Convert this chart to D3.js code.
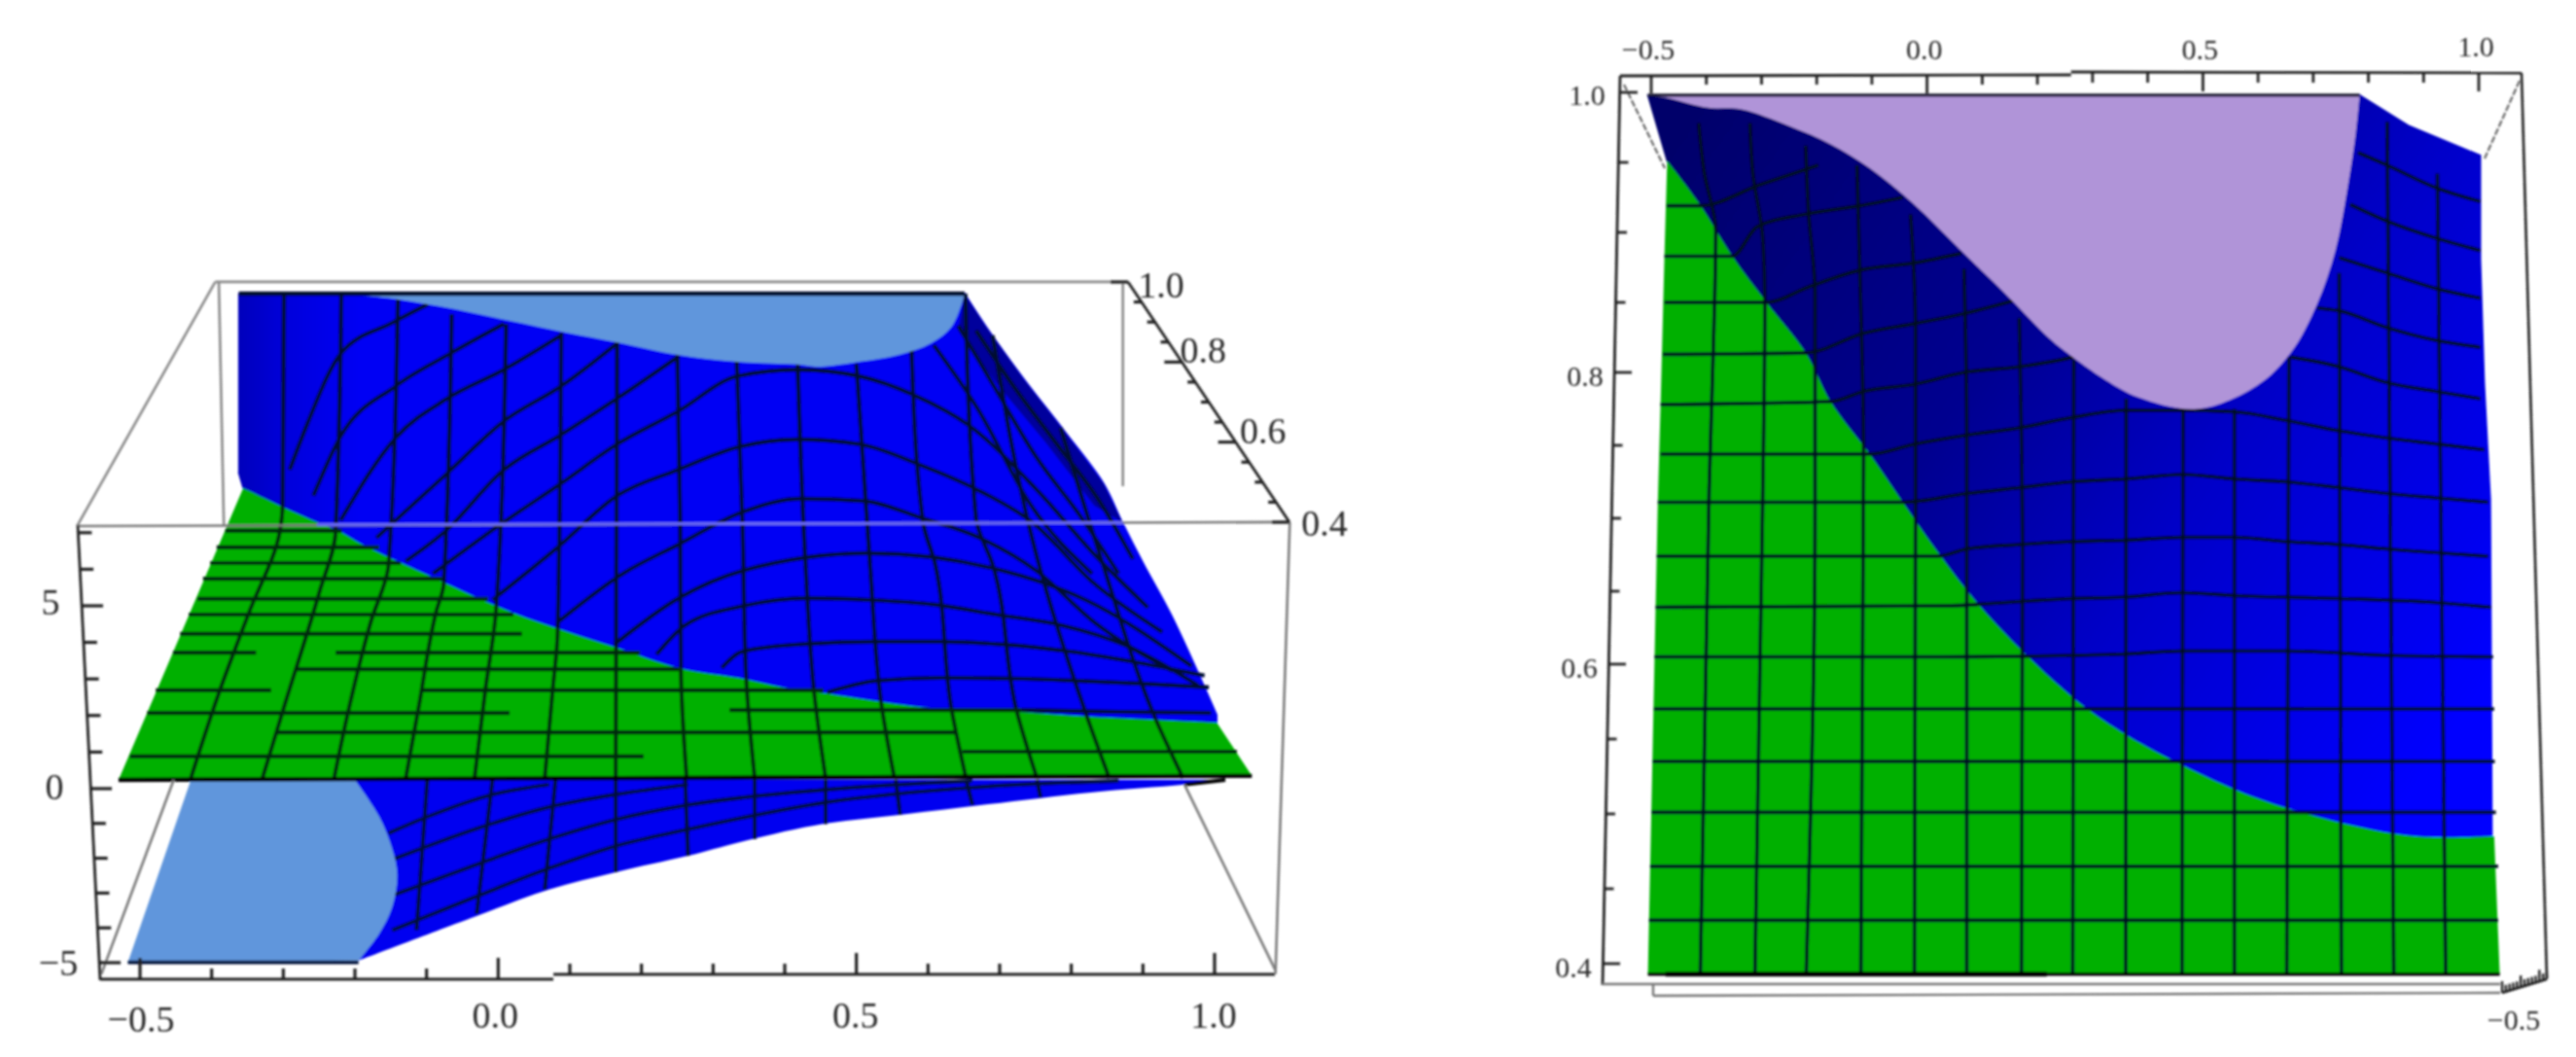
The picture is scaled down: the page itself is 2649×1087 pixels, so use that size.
<!DOCTYPE html>
<html><head><meta charset="utf-8">
<script src="https://cdnjs.cloudflare.com/ajax/libs/d3/7.8.5/d3.min.js"></script>
<style>html,body{margin:0;padding:0;background:#fff;overflow:hidden}svg{display:block}text{font-family:"Liberation Serif",serif;fill:#2a2a2a}</style>
</head><body><svg id="c" width="2649" height="1087"></svg>
<script>
// ---------- LEFT PANEL (x , projected z) ----------
const leftXTicks=[-0.5,-0.4,-0.3,-0.2,-0.1,0,0.1,0.2,0.3,0.4,0.5,0.6,0.7,0.8,0.9,1.0];
const leftXLabels=[[-0.5,"−0.5"],[0,"0.0"],[0.5,"0.5"],[1,"1.0"]];
const leftZTicks=[-5,-4,-3,-2,-1,0,1,2,3,4,5,6,7];
const leftZLabels=[[-5,"−5"],[0,"0"],[5,"5"]];
const leftDepthTicks=[0.4,0.45,0.5,0.55,0.6,0.65,0.7,0.75,0.8,0.85,0.9,0.95,1.0];
const leftDepthLabels=[[1.0,"1.0"],[0.8,"0.8"],[0.6,"0.6"],[0.4,"0.4"]];

const capTop=[[-.205,13.51],[-.139,13.38],[-.060,13.11],[.017,12.79],[.096,12.47],[.165,12.21],[.251,11.86],[.329,11.68],[.418,11.60],[.446,11.54],[.496,11.65],[.559,11.86],[.604,12.18],[.632,12.61],[.648,13.32],[.651,13.54]];
const rightEdge=[[.651,13.54],[.682,12.61],[.734,11.20],[.790,9.79],[.845,8.35],[.871,7.29],[.901,6.14],[.940,4.73],[1.003,2.02],[1.003,1.81]];
const seam=[[-.356,8.22],[-.296,7.66],[-.253,7.29],[-.220,7.02],[-.190,6.68],[-.087,5.74],[.021,4.81],[.161,3.88],[.252,3.30],[.335,3.03],[.397,2.77],[.454,2.61],[.591,2.23],[.723,2.10],[.826,1.97],[1.003,1.81]];
const upperLeft=[[-.362,8.62],[-.362,13.54]];
const wedge=[[.642,12.53],[.696,11.07],[.764,9.47],[.832,7.74],[.871,7.29],[.845,8.35],[.790,9.79],[.734,11.20],[.682,12.61],[.651,13.54]];
const planeCorners=[[1.052,.35],[-.530,.24]];
const lowerCurve=[[-.195,-4.94],[-.033,-3.68],[.071,-2.90],[.164,-2.40],[.265,-1.93],[.335,-1.55],[.441,-1.06],[.563,-.75],[.684,-.45],[.827,-.11],[.958,.11],[1.015,.24]];
const lowerCapCurve=[[-.200,.24],[-.166,-.81],[-.148,-1.73],[-.141,-2.48],[-.148,-3.40],[-.166,-4.16],[-.195,-4.94]];
const lowerCapLeft=[[-.517,-4.99],[-.429,.24]];

const planeRows=[
 [7.05,-.381,-.218],[6.60,-.393,-.166],[6.17,-.402,-.136],[5.74,-.412,-.078],[5.19,-.420,-.014],[4.76,-.432,.021],[4.23,-.444,.033],
 [3.72,-.454,-.338],[3.72,-.227,.198],[3.27,-.281,.252],[2.69,-.478,-.317],[2.69,-.109,.454],[2.07,-.490,.016],[2.15,.323,.730],
 [1.54,-.311,.638],[.88,-.514,.203],[1.01,.648,1.031]];
const meshCols=[
 [[-.299,13.54],[-.301,7.74],[-.305,7.02],[-.348,4.81],[-.390,2.61],[-.429,.29]],
 [[-.219,13.51],[-.227,7.02],[-.250,5.35],[-.299,2.23],[-.329,.29]],
 [[-.140,13.38],[-.153,6.14],[-.178,4.55],[-.208,2.23],[-.229,.29]],
 [[-.065,12.98],[-.076,5.61],[-.087,4.81],[-.111,2.23],[-.129,.29]],
 [[.011,12.71],[-.003,4.89],[-.018,2.69],[-.033,.29]],
 [[.088,12.47],[.083,4.28],[.076,2.69],[.065,.29]],
 [[.166,12.21],[.164,.29]],
 [[.250,11.86],[.254,7.29],[.255,3.30],[.263,.29]],
 [[.333,11.68],[.341,7.21],[.346,3.09],[.358,.29]],
 [[.418,11.60],[.429,6.14],[.441,2.63],[.457,.29]],
 [[.500,11.62],[.519,6.14],[.535,2.29],[.553,.29]],
 [[.577,12.00],[.593,7.29],[.610,6.14],[.633,2.15],[.653,.29]],
 [[.652,13.54],[.667,7.39],[.690,6.14],[.724,2.10],[.752,.29]],
 [[.690,12.40],[.751,6.41],[.821,2.02],[.853,.29]],
 [[.785,9.87],[.844,6.14],[.918,1.89],[.956,.29]]];
const meshArcs=[
 [[-.291,8.72],[-.267,9.95],[-.219,11.92],[-.148,12.74],[-.098,13.25]],
 [[-.258,8.01],[-.221,9.60],[-.143,11.01],[-.065,11.92],[.008,12.71]],
 [[-.220,7.34],[-.143,9.60],[-.071,10.67],[.008,11.46],[.088,12.40]],
 [[-.170,6.86],[-.076,8.54],[.008,10.05],[.088,11.01],[.166,12.18]],
 [[-.129,6.22],[-.075,7.02],[.008,8.72],[.088,9.68],[.166,10.67],[.251,11.81]],
 [[-.091,5.88],[.008,7.29],[.088,8.35],[.166,9.42],[.251,10.32],[.334,11.28],[.418,11.46],[.504,11.28],[.582,10.75],[.656,9.95],[.751,8.19],[.832,6.41],[.907,4.95]],
 [[-.008,5.16],[.083,6.60],[.166,8.01],[.251,8.72],[.335,9.34],[.418,9.55],[.504,9.42],[.588,8.86],[.667,8.19],[.745,7.29],[.832,5.61],[.927,4.28]],
 [[.083,4.55],[.174,5.88],[.252,6.68],[.339,7.55],[.422,7.93],[.509,7.87],[.593,7.39],[.672,6.86],[.751,5.96],[.832,4.55],[.941,3.22]],
 [[.162,3.94],[.252,5.21],[.341,5.96],[.517,6.44],[.694,6.01],[.820,5.16],[.968,3.35]],
 [[.221,3.67],[.261,4.47],[.343,5.00],[.432,5.21],[.519,5.16],[.610,5.03],[.695,4.76],[.786,4.47],[.873,3.94],[.977,2.82]],
 [[.312,3.30],[.341,3.75],[.432,3.96],[.529,4.02],[.620,4.02],[.707,3.94],[.798,3.75],[.884,3.48],[.986,3.09]],
 [[.459,2.63],[.529,2.95],[.620,3.03],[.718,3.01],[.809,2.95],[.901,2.87],[.992,2.77]],
 [[.730,2.15],[.866,2.10],[.995,2.07]],
 [[.608,12.13],[.669,10.40],[.744,7.74],[.829,5.88]],
 [[.642,12.66],[.690,11.07],[.751,9.07],[.812,7.47],[.866,5.88]],
 [[.667,12.53],[.717,11.07],[.778,9.47],[.839,7.87],[.886,6.28]]];
const lowerCols=[
 [[-.099,.24],[-.114,-4.07]],[[-.008,.24],[-.030,-3.60]],[[.080,.24],[.065,-2.90]],[[.164,.24],[.164,-2.40]],
 [[.261,.24],[.265,-1.93]],[[.358,.24],[.358,-1.45]],[[.457,.24],[.457,-1.02]],[[.555,.24],[.561,-.75]],[[.653,.24],[.662,-.47]],[[.752,.24],[.757,-.25]]];
const lowerArcs=[
 [[-.148,-4.07],[-.033,-3.12],[.071,-2.29],[.164,-1.65],[.265,-1.17],[.459,-.39],[.662,.03],[.866,.21]],
 [[-.144,-3.04],[-.033,-2.20],[.071,-1.45],[.164,-.89],[.265,-.47],[.459,-.03],[.662,.21]],
 [[-.144,-2.01],[-.033,-1.17],[.071,-.53],[.164,-.17],[.265,.11]],
 [[-.153,-1.28],[-.099,-.81],[-.008,-.17],[.071,.11]]];
const leftFrame=[
 [[-.395,13.86],[.880,13.86]],[[-.395,13.86],[-.588,7.18]],
 [[-.390,13.86],[-.383,7.2]],[[.872,13.86],[.872,8.27]]];
const leftFrameFront=[
 [[-.588,7.18],[1.105,7.29]],[[1.105,7.29],[1.085,-5.33]],[[.958,.11],[1.085,-5.22]],[[-.453,.24],[-.554,-5.33]]];
const frontOverBlue=[[-.253,7.22],[.872,7.27]];

// ---------- RIGHT PANEL (x , y) ----------
const rightXTicks=[-0.5,-0.4,-0.3,-0.2,-0.1,0,0.1,0.2,0.3,0.4,0.5,0.6,0.7,0.8,0.9,1.0];
const rightXLabels=[[-0.5,"−0.5"],[0,"0.0"],[0.5,"0.5"],[1,"1.0"]];
const rightYTicks=[0.4,0.45,0.5,0.55,0.6,0.65,0.7,0.75,0.8,0.85,0.9,0.95,1.0];
const rightYLabels=[[1.0,"1.0"],[0.8,"0.8"],[0.6,"0.6"],[0.4,"0.4"]];
const cornerTicks=[-5,-4,-3,-2,-1,0,1,2,3,4,5,6,7];
const lilac=[[-.506,.998],[-.471,.996],[-.397,.989],[-.338,.988],[-.250,.976],[-.175,.963],[-.104,.946],[-.026,.921],[.062,.887],[.150,.853],[.220,.825],[.254,.814],[.323,.795],[.383,.783],[.490,.775],[.598,.791],[.659,.814],[.707,.849],[.740,.887],[.763,.934],[.777,.971],[.784,.998]];
const rTopRight=[[.784,.998],[.874,.976],[1.003,.955],[1.003,.881],[1.010,.793],[1.021,.713],[1.024,.485]];
const rSeam=[[-.471,.951],[-.412,.920],[-.353,.883],[-.291,.850],[-.220,.814],[-.175,.780],[-.104,.744],[-.044,.711],[.019,.677],[.093,.641],[.178,.607],[.280,.573],[.360,.553],[.455,.534],[.594,.511],[.740,.495],[.885,.485],[1.024,.485]];
const rGreenClose=[[1.028,.485],[1.038,.393],[-.506,.393],[-.488,.711],[-.483,.778],[-.476,.883]];
const rRows=[
 [[-.504,.429],[1.035,.429]],[[-.502,.465],[1.035,.465]],[[-.499,.501],[1.031,.501]],[[-.497,.535],[1.029,.535]],[[-.495,.570],[1.028,.570]],
 [[-.494,.605],[.032,.605],[.264,.606],[.360,.607],[.462,.609],[.652,.609],[.834,.606],[1.026,.605]],
 [[-.492,.639],[.032,.640],[.171,.643],[.264,.645],[.360,.646],[.462,.649],[.557,.647],[.747,.645],[.929,.642],[1.022,.639]],
 [[-.490,.674],[.019,.674],[.072,.679],[.167,.682],[.261,.684],[.361,.685],[.464,.687],[.557,.687],[.652,.684],[.747,.682],[.834,.679],[1.017,.674]],
 [[-.488,.711],[-.044,.711],[.072,.717],[.167,.721],[.261,.725],[.361,.727],[.464,.730],[.557,.727],[.652,.725],[.747,.721],[.834,.717],[.922,.714],[1.017,.711]],
 [[-.483,.744],[-.104,.744],[-.021,.751],[.072,.757],[.167,.762],[.261,.769],[.361,.774],[.464,.774],[.557,.773],[.652,.767],[.747,.760],[.834,.755],[.922,.751],[1.010,.747]],
 [[-.483,.778],[-.175,.780],[-.115,.787],[-.021,.792],[.067,.800],[.167,.804],[.266,.811],[.314,.816]],
 [[-.479,.813],[-.220,.814],[-.115,.828],[-.021,.835],[.067,.842],[.155,.851]],
 [[-.476,.850],[-.291,.850],[-.215,.861],[-.122,.873],[-.026,.878],[.062,.885]],
 [[-.476,.883],[-.353,.883],[-.308,.904],[-.220,.913],[-.122,.919],[-.044,.925]],
 [[-.472,.919],[-.412,.919],[-.303,.934],[-.197,.948]],
 [[.781,.957],[.834,.948],[.922,.932],[1.003,.922]],
 [[.767,.920],[.834,.908],[.922,.896],[1.003,.887]],
 [[.747,.882],[.834,.871],[.922,.860],[1.003,.853]],
 [[.707,.846],[.747,.844],[.834,.832],[.922,.823],[1.003,.818]],
 [[.659,.811],[.747,.804],[.834,.793],[.922,.787],[1.003,.782]]];
const rCols=[
 [[-.414,.978],[-.404,.943],[-.383,.901],[-.388,.809],[-.395,.720],[-.411,.393]],
 [[-.321,.978],[-.316,.943],[-.298,.897],[-.294,.851],[-.298,.711],[-.312,.393]],
 [[-.220,.962],[-.215,.915],[-.203,.856],[-.203,.709],[-.219,.393]],
 [[-.127,.948],[-.122,.874],[-.115,.744],[-.120,.393]],
 [[-.030,.913],[-.021,.832],[-.021,.700],[-.023,.393]],
 [[.067,.874],[.072,.757],[.072,.393]],
 [[.167,.839],[.173,.675],[.171,.393]],
 [[.266,.809],[.264,.393]],
 [[.361,.782],[.360,.393]],
 [[.464,.775],[.462,.393]],
 [[.557,.775],[.557,.393]],
 [[.656,.811],[.652,.393]],
 [[.747,.871],[.751,.393]],
 [[.834,.979],[.846,.393]],
 [[.925,.942],[.940,.393]]];

const svg=d3.select("#c");
const defs=svg.append("defs");
defs.append("filter").attr("id","soft").attr("filterUnits","userSpaceOnUse").attr("x",0).attr("y",0).attr("width",2649).attr("height",1087)
  .append("feGaussianBlur").attr("stdDeviation",0.9);
const gradL=defs.append("linearGradient").attr("id","gL").attr("gradientUnits","userSpaceOnUse").attr("x1",246).attr("x2",370).attr("y1",0).attr("y2",0);
[[0,"#0000bc"],[.4,"#0000dc"],[1,"#0000f4"]].forEach(s=>gradL.append("stop").attr("offset",s[0]).attr("stop-color",s[1]));
const gradR=defs.append("linearGradient").attr("id","gR").attr("gradientUnits","userSpaceOnUse").attr("x1",1720).attr("y1",130).attr("x2",2560).attr("y2",700);
[[0,"#00006a"],[.4,"#000090"],[.65,"#0000c8"],[1,"#0606ff"]].forEach(s=>gradR.append("stop").attr("offset",s[0]).attr("stop-color",s[1]));
const root=svg.append("g").attr("filter","url(#soft)");

// --- scales
const lx=d3.scaleLinear().domain([-0.5,1]).range([144,1249]);
const lz=d3.scaleLinear().domain([-5,0,5]).range([990,811,623]);
const lzAxisX=d3.scaleLinear().domain([7.2,-5.5]).range([80,103]);
const ldX=d3.scaleLinear().domain([1,0.4]).range([1160,1326]);
const ldY=d3.scaleLinear().domain([1,0.4]).range([290,537]);
const rx=d3.scaleLinear().domain([-0.5,1]).range([1698,2549]);
const ry=d3.scaleLinear().domain([0.4,0.6,0.8,1]).range([991,683,383,95]);
const ryAxisX=d3.scaleLinear().domain([1,0.4]).range([1666,1648]);
const cX=d3.scaleLinear().domain([-5,7]).range([2573,2619]);
const cY=d3.scaleLinear().domain([-5,7]).range([1021,1007]);

const gen=(sx,sy,c)=>d3.line().curve(c).x(d=>sx(d[0])).y(d=>sy(d[1]));
const lineL=gen(lx,lz,d3.curveLinear), curveL=gen(lx,lz,d3.curveCatmullRom.alpha(0.5)), arcL=gen(lx,lz,d3.curveMonotoneX), colL=gen(lx,lz,d3.curveMonotoneY);
const lineR=gen(rx,ry,d3.curveLinear), curveR=gen(rx,ry,d3.curveCatmullRom.alpha(0.5)), arcR=gen(rx,ry,d3.curveMonotoneX), colR=gen(rx,ry,d3.curveMonotoneY);
function outline(pieces){return pieces.map((p,i)=>{const d=p[0](p[1]);return i?"L"+d.slice(1):d;}).join("")+"Z";}
function fillD(g,d,color,edge){const p=g.append("path").attr("d",d).attr("fill",color);if(edge)p.attr("stroke",color).attr("stroke-width",edge);return p;}
function stroke(g,g2,pts,color,w){return g.append("path").attr("d",g2(pts)).attr("fill","none").attr("stroke",color).attr("stroke-width",w);}
function seg(g,x1,y1,x2,y2,color,w){g.append("line").attr("x1",x1).attr("y1",y1).attr("x2",x2).attr("y2",y2).attr("stroke",color).attr("stroke-width",w);}
function label(g,x,y,t,size){g.append("text").attr("x",x).attr("y",y).attr("text-anchor","middle").attr("dominant-baseline","central").attr("font-size",size).text(t);}
const isMajor=v=>Math.abs(v*2-Math.round(v*2))<1e-6;

// =========== LEFT PANEL ===========
const L=root.append("g");
const planeD=outline([[curveL,seam],[lineL,planeCorners]]);
defs.append("clipPath").attr("id","planeClip").append("path").attr("d",planeD);
leftFrame.forEach(s=>stroke(L,lineL,s,"#8a8a8a",2.6));
// upper surface
fillD(L,outline([[lineL,upperLeft],[curveL,rightEdge.slice(0,-1)],[lineL,rightEdge.slice(-1)],[curveL,seam.slice().reverse()]]),"url(#gL)",1.5);
fillD(L,lineL(wedge)+"Z","#00009c");
meshCols.forEach(c=>stroke(L,colL,c,"#000a30",4.3));
meshArcs.forEach(c=>stroke(L,arcL,c,"#000a30",4.1));
fillD(L,curveL(capTop)+"Z","#6096dc");
// lower surface
fillD(L,outline([[lineL,[[-.200,.24]]],[curveL,lowerCurve],[lineL,[[1.015,.24]]]]),"#0000f0");
lowerCols.forEach(c=>stroke(L,lineL,c,"#000a30",4));
lowerArcs.forEach(c=>stroke(L,arcL,c,"#000a40",4));
fillD(L,outline([[curveL,lowerCapCurve],[lineL,lowerCapLeft]]),"#6096dc");
stroke(L,lineL,[[-.517,-4.99],[-.195,-4.99]],"#05103a",3.8);
stroke(L,lineL,[[.958,.11],[1.015,.24]],"#000",4);
// plane and its mesh
fillD(L,planeD,"#00b000");
stroke(L,lineL,[[-.362,13.54],[.651,13.54]],"#00082c",4.5);
const planeMesh=L.append("g").attr("clip-path","url(#planeClip)");
meshCols.forEach(c=>stroke(planeMesh,colL,c,"#032a08",4));
planeRows.forEach(r=>stroke(L,lineL,[[r[1],r[0]],[r[2],r[0]]],"#032a08",4.2));
stroke(L,lineL,planeCorners,"#000",4.4);
leftFrameFront.forEach(s=>stroke(L,lineL,s,"#7c7c7c",2.6));
stroke(L,lineL,frontOverBlue,"#6868f4",3);
// z axis
seg(L,lzAxisX(7.2),lz(7.2),lzAxisX(-5.5),lz(-5.5),"#222",2.8);
leftZTicks.forEach(z=>{const m=z%5===0;seg(L,lzAxisX(z),lz(z),lzAxisX(z)+(m?22:14),lz(z),"#222",3.2);});
label(L,52,lz(5)-4,leftZLabels[2][1],38);label(L,56,lz(0)-2,leftZLabels[1][1],38);label(L,60,lz(-5),leftZLabels[0][1],38);
// x axis (the drawn line has a small step)
seg(L,103,1007,lx(0.077),1007,"#222",3.2);
seg(L,lx(0.077),1002,1311,1002,"#222",3.2);
leftXTicks.forEach(x=>{const b=x<0.077?1007:1002;seg(L,lx(x),b,lx(x),b-(isMajor(x)?22:11),"#222",3.2);});
leftXLabels.forEach((d,i)=>label(L,lx(d[0])+(i==0?1:i==1?-3:-1),i==0?1048:1044,d[1],38));
// depth axis
seg(L,ldX(1),ldY(1),ldX(.4),ldY(.4),"#222",2.8);
leftDepthTicks.forEach(v=>{const m=Math.abs(v*5-Math.round(v*5))<1e-6;seg(L,ldX(v),ldY(v),ldX(v)-(m?18:8),ldY(v),"#222",3.2);});
leftDepthLabels.forEach(d=>label(L,ldX(d[0])+(d[0]==.4?36:d[0]==1?34:d[0]==.8?22:28),ldY(d[0])+(d[0]==1?3:d[0]==.4?1:-12),d[1],38));

// =========== RIGHT PANEL ===========
const R=root.append("g");
fillD(R,outline([[curveR,lilac],[lineR,rTopRight],[curveR,rSeam.slice().reverse()]]),"url(#gR)",1.5);
fillD(R,outline([[curveR,rSeam],[lineR,rGreenClose]]),"#00b000");
rRows.forEach(c=>stroke(R,arcR,c,"#000820",3.7));
rCols.forEach(c=>stroke(R,colR,c,"#000820",3.6));
fillD(R,curveR(lilac)+"Z","#b094d8");
stroke(R,lineR,[[-.506,.998],[.784,.998]],"#1a1a30",3.2);
stroke(R,lineR,[[-.506,.393],[1.038,.393]],"#000",3.4);
stroke(R,lineR,[[-.474,.393],[.217,.393]],"#000",5);
// frame
seg(R,1666,78,rx(0.261),77,"#222",2.8);
seg(R,rx(0.261),74,2593,75,"#222",2.8);
seg(R,1666,78,1648,1013,"#222",2.8);
seg(R,2593,75,2619,1006,"#222",2.6);
R.append("line").attr("x1",1670).attr("y1",87).attr("x2",1712).attr("y2",173).attr("stroke","#666").attr("stroke-width",2.2).attr("stroke-dasharray","7 2");
R.append("line").attr("x1",2591).attr("y1",83).attr("x2",2555).attr("y2",163).attr("stroke","#666").attr("stroke-width",2.2).attr("stroke-dasharray","7 2");
seg(R,1648,1012,2571,1012,"#777",2.4);
seg(R,1700,1024,2571,1021,"#777",2.4);
seg(R,1700,1012,1700,1024,"#777",2.4);
rightXTicks.forEach(x=>{const b=x<0.261?77:75;seg(R,rx(x),b,rx(x),b+(isMajor(x)?19:10),"#222",2.8);});
rightYTicks.forEach(v=>{const m=Math.abs(v*5-Math.round(v*5))<1e-6;seg(R,ryAxisX(v),ry(v),ryAxisX(v)+(m?18:10),ry(v),"#222",2.8);});
rightXLabels.forEach(d=>label(R,rx(d[0])-3,d[0]==1?47:50,d[1],30));
rightYLabels.forEach(d=>label(R,ryAxisX(d[0])-(d[0]==1?34:30),ry(d[0])+(d[0]==1?2:3),d[1],30));
// little corner axis
seg(R,cX(-5),cY(-5),cX(7),cY(7),"#222",2.8);
cornerTicks.forEach(v=>seg(R,cX(v),cY(v),cX(v),cY(v)-(v%5===0?12:7),"#222",2.4));
label(R,2585,1048,"−0.5",30);
</script></body></html>
